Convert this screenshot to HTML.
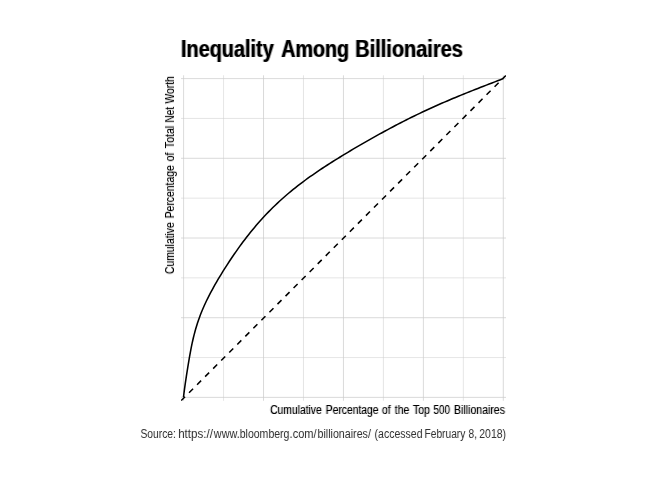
<!DOCTYPE html>
<html lang="en">
<head>
<meta charset="utf-8">
<title>Inequality Among Billionaires</title>
<style>
html,body{margin:0;padding:0;background:#fff;}
body{width:672px;height:480px;overflow:hidden;}
svg{display:block;}
text{font-family:"Liberation Sans",sans-serif;}
.title{font-size:24px;font-weight:bold;fill:#000;}
.ax,.ay{font-size:12px;fill:#000;}
.cap{font-size:12px;fill:#333;}
.grid line{stroke:#cccccc;}
</style>
</head>
<body>
<svg width="672" height="480" viewBox="0 0 672 480">
<rect width="672" height="480" fill="#ffffff"/>
<defs>
<clipPath id="panel"><rect x="181.0" y="75.3" width="325.0" height="325.5"/></clipPath>
<filter id="boldT" filterUnits="userSpaceOnUse" x="170" y="30" width="310" height="40" color-interpolation-filters="sRGB">
<feMorphology in="SourceGraphic" operator="dilate" radius="1 0" result="d"/>
<feComposite in="SourceGraphic" in2="d" operator="arithmetic" k1="0" k2="0.6699999999999999" k3="0.33" k4="0"/>
</filter>
<filter id="boldX" filterUnits="userSpaceOnUse" x="260" y="398" width="260" height="24" color-interpolation-filters="sRGB">
<feMorphology in="SourceGraphic" operator="dilate" radius="1 0" result="d"/>
<feComposite in="SourceGraphic" in2="d" operator="arithmetic" k1="0" k2="0.79" k3="0.21" k4="0"/>
</filter>
<filter id="boldC" filterUnits="userSpaceOnUse" x="130" y="422" width="390" height="24" color-interpolation-filters="sRGB">
<feMorphology in="SourceGraphic" operator="dilate" radius="1 0" result="d"/>
<feComposite in="SourceGraphic" in2="d" operator="arithmetic" k1="0" k2="0.96" k3="0.04" k4="0"/>
</filter>
<filter id="boldY" filterUnits="userSpaceOnUse" x="-285" y="158" width="220" height="24" color-interpolation-filters="sRGB">
<feMorphology in="SourceGraphic" operator="dilate" radius="1 0" result="d"/>
<feComposite in="SourceGraphic" in2="d" operator="arithmetic" k1="0" k2="0.83" k3="0.17" k4="0"/>
</filter>
</defs>
<g class="grid">
<line x1="183.60" y1="75.3" x2="183.60" y2="400.8" stroke-width="0.72"/>
<line x1="181.0" y1="78.60" x2="506.0" y2="78.60" stroke-width="0.72"/>
<line x1="223.56" y1="75.3" x2="223.56" y2="400.8" stroke-width="0.52"/>
<line x1="181.0" y1="118.45" x2="506.0" y2="118.45" stroke-width="0.52"/>
<line x1="263.52" y1="75.3" x2="263.52" y2="400.8" stroke-width="0.72"/>
<line x1="181.0" y1="158.30" x2="506.0" y2="158.30" stroke-width="0.72"/>
<line x1="303.49" y1="75.3" x2="303.49" y2="400.8" stroke-width="0.52"/>
<line x1="181.0" y1="198.15" x2="506.0" y2="198.15" stroke-width="0.52"/>
<line x1="343.45" y1="75.3" x2="343.45" y2="400.8" stroke-width="0.72"/>
<line x1="181.0" y1="238.00" x2="506.0" y2="238.00" stroke-width="0.72"/>
<line x1="383.41" y1="75.3" x2="383.41" y2="400.8" stroke-width="0.52"/>
<line x1="181.0" y1="277.85" x2="506.0" y2="277.85" stroke-width="0.52"/>
<line x1="423.38" y1="75.3" x2="423.38" y2="400.8" stroke-width="0.72"/>
<line x1="181.0" y1="317.70" x2="506.0" y2="317.70" stroke-width="0.72"/>
<line x1="463.34" y1="75.3" x2="463.34" y2="400.8" stroke-width="0.52"/>
<line x1="181.0" y1="357.55" x2="506.0" y2="357.55" stroke-width="0.52"/>
<line x1="503.30" y1="75.3" x2="503.30" y2="400.8" stroke-width="0.72"/>
<line x1="181.0" y1="397.40" x2="506.0" y2="397.40" stroke-width="0.72"/>
</g>
<g clip-path="url(#panel)" fill="none" stroke="#000" stroke-width="1.55">
<line x1="181.0" y1="400.8" x2="506.0" y2="75.3" stroke-dasharray="5.69 5.69"/>
<polyline stroke-linejoin="round" points="183.49,397.20 183.84,394.26 184.21,391.30 184.60,388.34 185.02,385.35 185.45,382.36 185.90,379.36 186.35,376.36 186.81,373.35 187.29,370.34 187.77,367.33 188.26,364.32 188.76,361.31 189.27,358.31 189.79,355.31 190.34,352.32 190.90,349.34 191.48,346.37 192.10,343.41 192.75,340.46 193.43,337.53 194.16,334.61 194.92,331.70 195.74,328.81 196.59,325.93 197.50,323.07 198.46,320.22 199.46,317.39 200.52,314.58 201.63,311.79 202.78,309.01 203.98,306.25 205.23,303.50 206.51,300.77 207.84,298.06 209.21,295.36 210.61,292.68 212.04,290.01 213.50,287.35 214.99,284.71 216.50,282.09 218.03,279.47 219.58,276.87 221.16,274.28 222.75,271.71 224.35,269.15 225.98,266.60 227.61,264.06 229.27,261.54 230.94,259.03 232.62,256.53 234.32,254.04 236.04,251.57 237.77,249.11 239.52,246.66 241.29,244.23 243.08,241.82 244.90,239.41 246.73,237.02 248.59,234.65 250.48,232.29 252.38,229.95 254.32,227.63 256.27,225.32 258.26,223.03 260.27,220.76 262.30,218.51 264.36,216.28 266.45,214.07 268.56,211.88 270.69,209.71 272.85,207.57 275.03,205.45 277.24,203.36 279.46,201.29 281.70,199.25 283.97,197.23 286.25,195.24 288.56,193.28 290.88,191.34 293.21,189.43 295.57,187.54 297.94,185.69 300.32,183.85 302.72,182.04 305.14,180.25 307.56,178.48 310.01,176.73 312.46,175.01 314.92,173.30 317.40,171.60 319.89,169.93 322.39,168.26 324.90,166.62 327.41,164.98 329.94,163.36 332.48,161.75 335.02,160.15 337.58,158.56 340.14,156.98 342.71,155.41 345.29,153.85 347.87,152.29 350.46,150.74 353.06,149.20 355.66,147.67 358.27,146.15 360.89,144.63 363.51,143.11 366.13,141.61 368.77,140.11 371.40,138.62 374.05,137.13 376.69,135.65 379.35,134.18 382.01,132.72 384.67,131.27 387.34,129.83 390.01,128.39 392.69,126.97 395.37,125.55 398.06,124.15 400.75,122.76 403.45,121.38 406.15,120.01 408.85,118.65 411.56,117.30 414.28,115.97 417.00,114.65 419.72,113.34 422.45,112.05 425.19,110.76 427.93,109.49 430.67,108.23 433.41,106.99 436.17,105.75 438.92,104.53 441.68,103.32 444.44,102.12 447.21,100.93 449.98,99.75 452.76,98.58 455.54,97.42 458.32,96.27 461.11,95.13 463.90,94.00 466.69,92.87 469.49,91.75 472.29,90.64 475.09,89.53 477.90,88.43 480.71,87.33 483.52,86.24 486.34,85.15 489.16,84.06 491.98,82.97 494.81,81.88 497.63,80.78 500.46,79.69 503.30,78.59"/>
</g>
<g filter="url(#boldT)">
<text class="title" y="56.8"><tspan x="181.02" textLength="92.69" lengthAdjust="spacingAndGlyphs">Inequality</tspan> <tspan x="281.20" textLength="67.95" lengthAdjust="spacingAndGlyphs">Among</tspan> <tspan x="355.35" textLength="107.47" lengthAdjust="spacingAndGlyphs">Billionaires</tspan></text>
</g>
<g filter="url(#boldX)">
<text class="ax" y="413.9"><tspan x="270.15" textLength="51.64" lengthAdjust="spacingAndGlyphs">Cumulative</tspan> <tspan x="325.81" textLength="52.71" lengthAdjust="spacingAndGlyphs">Percentage</tspan> <tspan x="382.08" textLength="8.55" lengthAdjust="spacingAndGlyphs">of</tspan> <tspan x="394.78" textLength="14.47" lengthAdjust="spacingAndGlyphs">the</tspan> <tspan x="412.90" textLength="16.99" lengthAdjust="spacingAndGlyphs">Top</tspan> <tspan x="433.47" textLength="16.55" lengthAdjust="spacingAndGlyphs">500</tspan> <tspan x="454.08" textLength="50.86" lengthAdjust="spacingAndGlyphs">Billionaires</tspan></text>
</g>
<g filter="url(#boldC)">
<text class="cap" y="437.5"><tspan x="140.41" textLength="35.57" lengthAdjust="spacingAndGlyphs">Source:</tspan> <tspan x="178.17" textLength="34.88" lengthAdjust="spacingAndGlyphs">https://</tspan><tspan x="213.79" textLength="25.96" lengthAdjust="spacingAndGlyphs">www.</tspan><tspan x="239.68" textLength="49.81" lengthAdjust="spacingAndGlyphs">bloomberg</tspan><tspan x="289.57" textLength="27.07" lengthAdjust="spacingAndGlyphs">.com/</tspan><tspan x="317.47" textLength="53.47" lengthAdjust="spacingAndGlyphs">billionaires/</tspan> <tspan x="374.60" textLength="47.93" lengthAdjust="spacingAndGlyphs">(accessed</tspan> <tspan x="424.50" textLength="40.89" lengthAdjust="spacingAndGlyphs">February</tspan> <tspan x="468.53" textLength="8.50" lengthAdjust="spacingAndGlyphs">8,</tspan> <tspan x="479.28" textLength="26.83" lengthAdjust="spacingAndGlyphs">2018)</tspan></text>
</g>
<g transform="rotate(-90)"><g filter="url(#boldY)">
<text class="ay" y="174"><tspan x="-274.00" textLength="51.74" lengthAdjust="spacingAndGlyphs">Cumulative</tspan> <tspan x="-218.35" textLength="53.23" lengthAdjust="spacingAndGlyphs">Percentage</tspan> <tspan x="-161.32" textLength="8.66" lengthAdjust="spacingAndGlyphs">of</tspan> <tspan x="-148.15" textLength="22.35" lengthAdjust="spacingAndGlyphs">Total</tspan> <tspan x="-122.44" textLength="15.55" lengthAdjust="spacingAndGlyphs">Net</tspan> <tspan x="-103.62" textLength="27.36" lengthAdjust="spacingAndGlyphs">Worth</tspan></text>
</g></g>
</svg>
</body>
</html>
